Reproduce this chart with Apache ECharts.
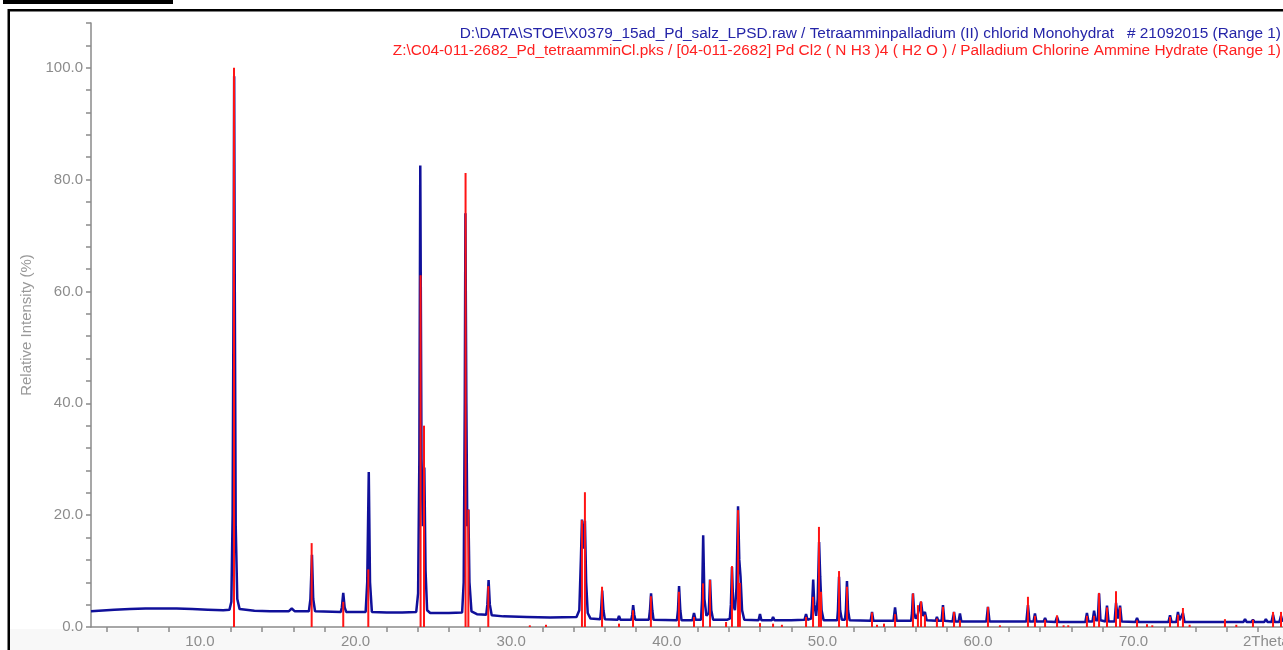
<!DOCTYPE html>
<html>
<head>
<meta charset="utf-8">
<script src="https://cdn.jsdelivr.net/npm/echarts@6/dist/echarts.min.js"></script>
<style>
html,body{margin:0;padding:0;background:#fff;}
#chart{width:1283px;height:650px;}
</style>
</head>
<body>
<div id="chart"></div>
<script>
// ---- data ----
const xLabelValues = [10, 20, 30, 40, 50, 60, 70];
const xMinorTickValues = [4, 6, 8, 12, 14, 16, 18, 22, 24, 26, 28, 32, 34, 36, 38, 42, 44, 46, 48, 52, 54, 56, 58, 62, 64, 66, 68, 72, 74, 76, 78];
const yLabelValues = [0, 20, 40, 60, 80, 100];

// measured pattern (2Theta, relative intensity %)
const patternPoints = [
  [3.0,2.8],[3.5,2.9],[4.5,3.1],[5.5,3.2],[6.5,3.3],[7.5,3.3],[8.5,3.3],[9.5,3.2],[10.5,3.1],[11.5,3.0],[11.9,3.1],
  [12.02,4.5],[12.1,20],[12.16,60],[12.2,98.5],[12.24,60],[12.3,18],[12.4,5],[12.55,3.2],
  [13.5,2.9],[14.5,2.8],[15.7,2.8],[15.9,3.3],[16.1,2.8],[17.0,2.8],
  [17.1,5],[17.2,12.9],[17.28,5],[17.4,2.8],
  [19.05,2.7],[19.12,3.5],[19.21,6.1],[19.3,3.5],[19.4,2.7],
  [20.65,2.7],[20.75,8],[20.85,27.7],[20.93,8],[21.05,2.7],
  [22.0,2.6],[23.0,2.6],[23.9,2.7],
  [24.02,6],[24.1,30],[24.16,82.5],[24.24,30],[24.32,18],[24.42,28.5],[24.5,10],[24.6,3],[24.8,2.5],
  [26.0,2.5],[26.85,2.6],[26.95,8],[27.02,40],[27.06,74],[27.12,40],[27.18,18],[27.25,21],[27.32,8],[27.45,2.8],[27.8,2.3],
  [28.4,2.2],[28.47,4],[28.55,8.4],[28.63,4],[28.75,2.1],
  [29.5,1.9],[31.0,1.8],[32.5,1.7],[34.2,1.8],
  [34.38,3],[34.48,12],[34.55,19.2],[34.64,14],[34.74,19.0],[34.82,8],[34.92,2.5],[35.1,1.5],
  [35.72,1.4],[35.78,3],[35.85,6.5],[35.93,3],[36.02,1.4],
  [36.85,1.3],[36.93,2.0],[37.02,1.3],
  [37.72,1.3],[37.78,2.2],[37.84,3.9],[37.91,2.2],[37.98,1.3],
  [38.85,1.3],[38.92,3],[38.99,6.0],[39.07,3],[39.15,1.3],
  [40.65,1.2],[40.72,3],[40.79,7.3],[40.87,3],[40.95,1.2],
  [41.65,1.2],[41.75,2.5],[41.85,1.3],
  [42.2,1.3],[42.27,5],[42.34,16.4],[42.42,5],[42.55,2],[42.7,2.5],[42.78,8.5],[42.86,3],[42.98,1.3],
  [43.75,1.3],[43.81,1.5],[43.9,1.3],
  [44.05,1.5],[44.12,4],[44.19,10.7],[44.27,4],[44.38,3],[44.48,7],[44.58,21.6],[44.66,12],[44.74,9],[44.84,3],[44.98,1.3],
  [45.9,1.2],[45.99,2.3],[46.08,1.2],
  [46.75,1.2],[46.83,1.8],[46.92,1.2],
  [48.0,1.2],[48.85,1.3],[48.95,2.3],[49.05,1.3],
  [49.28,1.5],[49.34,4],[49.41,8.5],[49.48,4],[49.6,2],[49.7,5],[49.79,15.2],[49.86,9],[49.95,3],[50.08,1.2],
  [50.95,1.2],[51.0,3],[51.07,9.0],[51.14,3],[51.25,1.3],[51.45,1.3],[51.51,3],[51.58,8.2],[51.65,3],[51.75,1.2],
  [53.1,1.1],[53.19,2.7],[53.28,1.1],
  [53.9,1.1],[53.97,1.4],[54.05,1.1],
  [54.57,1.1],[54.67,3.5],[54.77,1.1],
  [55.7,1.1],[55.76,2.5],[55.82,6.0],[55.9,2.5],[56.0,1.5],[56.1,2],[56.2,3],[56.34,4.5],[56.45,2],[56.59,2.7],[56.7,1.2],
  [57.28,1.1],[57.36,1.8],[57.45,1.1],
  [57.66,1.1],[57.75,3.9],[57.84,1.1],
  [58.37,1.0],[58.46,2.7],[58.55,1.0],[58.75,1.0],[58.84,2.4],[58.93,1.0],
  [60.54,1.0],[60.64,3.6],[60.74,1.0],
  [62.42,1.0],[62.51,1.2],[62.6,1.0],
  [63.11,1.0],[63.21,3.9],[63.31,1.0],[63.57,1.0],[63.66,2.4],[63.75,1.0],
  [64.22,1.0],[64.31,1.6],[64.4,1.0],
  [64.98,0.9],[65.08,1.8],[65.18,0.9],
  [66.9,0.9],[67.0,2.5],[67.1,1.0],[67.36,1.0],[67.46,2.9],[67.56,1.2],[67.7,1.2],[67.78,6.0],[67.87,1.2],
  [68.19,1.0],[68.29,3.8],[68.39,1.0],[68.78,1.0],[68.87,4.3],[68.98,1.5],[69.13,3.8],[69.23,1.0],
  [70.12,0.9],[70.22,1.6],[70.32,0.9],[70.76,0.9],[70.86,1.2],[70.96,0.9],
  [72.24,0.9],[72.34,2.1],[72.44,0.9],[72.75,0.9],[72.85,2.7],[72.95,1.2],[73.17,2.5],[73.27,0.9],
  [73.72,0.9],[73.82,1.1],[73.92,0.9],
  [75.77,0.9],[75.87,1.2],[75.97,0.9],[76.22,0.9],[76.32,1.1],[76.42,0.9],
  [77.06,0.9],[77.16,1.4],[77.26,0.9],[77.57,0.9],[77.67,1.3],[77.77,0.9],
  [78.4,0.9],[78.5,1.4],[78.6,0.9],[78.86,0.9],[78.96,2.2],[79.06,0.9],[79.37,0.9],[79.47,2.0],[79.57,0.9],[79.6,0.9]
];

// reference card 04-011-2682 stick positions and intensities
const refPositions = [
  12.19, 17.18, 19.21, 20.82, 24.18, 24.40, 27.07, 27.25, 28.53, 31.2, 32.24,
  34.55, 34.74, 35.84, 36.93, 37.83, 38.98, 40.78, 41.75, 42.33, 42.78, 43.81,
  44.19, 44.58, 44.70, 45.99, 46.83, 47.4, 48.95, 49.4, 49.78, 49.91, 51.07, 51.58,
  53.19, 53.51, 53.96, 54.67, 55.82, 56.14, 56.34, 56.59, 57.36, 57.75, 58.46, 58.84,
  60.64, 61.41, 63.21, 63.66, 64.31, 65.08, 65.5, 65.8, 67.0, 67.46, 67.78, 68.29,
  68.87, 69.13, 70.22, 70.86, 71.2, 72.34, 72.85, 73.17, 73.6, 75.87, 76.6, 77.67,
  78.96, 79.47
];
const refIntensities = [
  100, 15.0, 4.5, 10.3, 62.9, 36.0, 81.2, 21.0, 7.3, 0.3, 0.4,
  19.1, 24.1, 7.2, 0.6, 3.0, 5.5, 6.3, 1.8, 7.8, 8.4, 0.9,
  10.9, 20.9, 7.9, 0.7, 0.6, 0.4, 1.8, 5.4, 17.9, 6.3, 10.0, 7.2,
  2.6, 0.4, 0.6, 2.3, 6.0, 3.9, 4.6, 2.2, 1.5, 3.6, 2.7, 1.2,
  3.6, 0.3, 5.4, 2.0, 1.3, 2.1, 0.3, 0.3, 2.0, 2.0, 6.1, 3.5,
  6.4, 3.5, 1.2, 0.5, 0.3, 1.8, 2.2, 3.4, 0.4, 1.4, 0.4, 1.3,
  2.7, 2.7
];

const legendBlue = 'D:\\DATA\\STOE\\X0379_15ad_Pd_salz_LPSD.raw / Tetraamminpalladium (II) chlorid Monohydrat   # 21092015 (Range 1)';
const legendRed = 'Z:\\C04-011-2682_Pd_tetraamminCl.pks / [04-011-2682] Pd Cl2 ( N H3 )4 ( H2 O ) / Palladium Chlorine Ammine Hydrate (Range 1)';

// ---- chart ----
const stickData = refPositions.map((p, i) => [p, refIntensities[i]]);
const chart = echarts.init(document.getElementById('chart'), null, {renderer: 'canvas'});
const axisGray = '#8a8a8a';
const font = 'Liberation Sans, Arial, Helvetica, sans-serif';

chart.setOption({
  animation: false,
  backgroundColor: '#ffffff',
  grid: {left: 91, top: 23, bottom: 23, right: 0, containLabel: false},
  xAxis: {
    type: 'value', min: 3, max: 79.6,
    axisLine: {show: true, onZero: false, lineStyle: {color: axisGray, width: 1.5}},
    axisTick: {show: true, inside: false, length: 5, customValues: xMinorTickValues, lineStyle: {color: axisGray, width: 1.5}},
    axisLabel: {show: true, customValues: xLabelValues, margin: 7, color: '#8c8c8c', fontSize: 15, fontFamily: font,
      formatter: v => v.toFixed(1)},
    splitLine: {show: false}
  },
  yAxis: {
    type: 'value', min: 0, max: 108, interval: 4,
    axisLine: {show: true, lineStyle: {color: axisGray, width: 1.5}},
    axisTick: {show: true, inside: false, length: 5, lineStyle: {color: axisGray, width: 1.5}},
    axisLabel: {show: true, margin: 8, color: '#8c8c8c', fontSize: 15, fontFamily: font,
      formatter: v => (yLabelValues.indexOf(v) >= 0 ? v.toFixed(1) : '')},
    splitLine: {show: false}
  },
  series: [
    {
      type: 'line', data: patternPoints, showSymbol: false, symbol: 'none',
      lineStyle: {color: '#10109a', width: 2.5}, z: 2
    },
    {
      type: 'custom', data: stickData, z: 3,
      renderItem: function (params, api) {
        const top = api.coord([api.value(0), api.value(1)]);
        const base = api.coord([api.value(0), 0]);
        return {
          type: 'line',
          shape: {x1: top[0], y1: top[1], x2: base[0], y2: base[1]},
          style: {stroke: '#ff1414', lineWidth: 2}
        };
      }
    }
  ],
  graphic: [
    {type: 'rect', shape: {x: 10, y: 629, width: 1280, height: 30}, style: {fill: '#f8f8f8'}, z: -1, silent: true},
    {type: 'rect', shape: {x: 3, y: 0, width: 170, height: 4}, style: {fill: '#000'}, z: 10},
    {type: 'rect', shape: {x: 8.75, y: 10.25, width: 1400, height: 800}, style: {fill: null, stroke: '#000', lineWidth: 2.5}, z: 10},
    {type: 'text', x: 27, y: 325, rotation: Math.PI / 2, style: {text: 'Relative Intensity (%)', fill: '#999999', fontSize: 15, fontFamily: font, align: 'center', verticalAlign: 'middle'}, z: 10},
    {type: 'text', x: 1281, y: 34, style: {text: legendBlue, fill: '#2424a8', fontSize: 15.4, fontFamily: font, align: 'right', verticalAlign: 'middle'}, z: 10},
    {type: 'text', x: 1281, y: 51, style: {text: legendRed, fill: '#ff2020', fontSize: 15.4, fontFamily: font, align: 'right', verticalAlign: 'middle'}, z: 10},
    {type: 'text', x: 1243, y: 642, style: {text: '2Theta', fill: '#8c8c8c', fontSize: 15, fontFamily: font, align: 'left', verticalAlign: 'middle'}, z: 10}
  ]
});
</script>
</body>
</html>
